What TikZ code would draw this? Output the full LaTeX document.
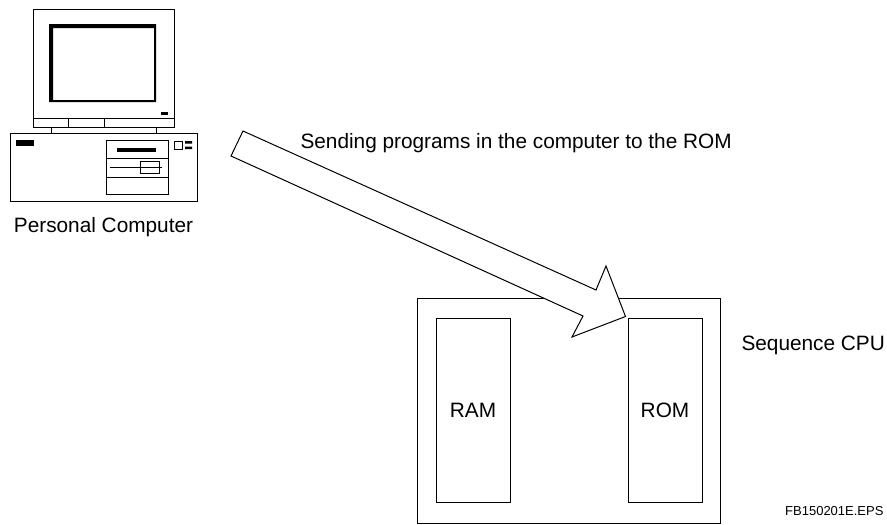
\documentclass[tikz,border=0pt]{standalone}
\usepackage{fontspec}
\setmainfont{Liberation Sans}
\begin{document}
\begin{tikzpicture}[x=1pt,y=-1pt,line width=1pt,line join=miter,
  lbl/.style={font=\fontsize{20.8}{24}\selectfont, inner sep=0pt},
  part/.style={draw, fill=white},
  memory/.style={draw, line width=1pt, minimum width=74pt, minimum height=184pt,
    inner sep=0pt, font=\fontsize{20.8}{24}\selectfont}]
\useasboundingbox (0,0) rectangle (887,525);

% ---- personal computer ----
% monitor
\draw[part] (33,9) rectangle (174,118);
\fill[even odd rule] (49,24) rectangle (156,102) (53,28) rectangle (154,100);
\fill (161,112) rectangle (168,115);
% monitor foot strip
\draw[part] (33,118) rectangle (174,127);
\draw (68,118) -- (68,127) (104,118) -- (104,127);
\draw (51,127) -- (51,133) (156,127) -- (156,133);
% system unit
\draw[part] (10,133) rectangle (197,201);
\fill (16,140) rectangle (34,146);
\draw (106,140) rectangle (168,194);
\draw (106,158) -- (168,158) (106,177) -- (168,177);
\fill (117,148) rectangle (156,152);
\draw (110,167) -- (162,167);
\draw (140,161) rectangle (159,173);
\draw (174,141) rectangle (182,149);
\fill (185,141) rectangle (192,143.5) (185,146.5) rectangle (192,149);
\node[lbl, anchor=base] (pc) at (103.5,232) {Personal Computer};

% ---- sequence CPU ----
\node[draw, minimum width=303pt, minimum height=225pt, inner sep=0pt] (cpu) at (568.5,410.5) {};
\node[memory] (ram) at (473,410) {RAM};
\node[memory] (rom) at (665,410) {ROM};
\node[lbl, anchor=base west] (cpulbl) at (741,350) {Sequence CPU};

% ---- block arrow from the computer to the ROM ----
\coordinate (tip) at (rom.north west);
\filldraw[fill=white] (243,131) -- (596,290) -- (606,266) -- ([xshift=-2pt,yshift=1pt]tip)
  -- (572,337) -- (583,316) -- (231,156) -- cycle;
\node[lbl, anchor=base west] (sendlbl) at (300,148) {Sending programs in the computer to the ROM};

% drawing reference
\node[font=\fontsize{13}{15}\selectfont, inner sep=0pt, anchor=base east] (ref) at (884,515) {FB150201E.EPS};
\end{tikzpicture}
\end{document}
